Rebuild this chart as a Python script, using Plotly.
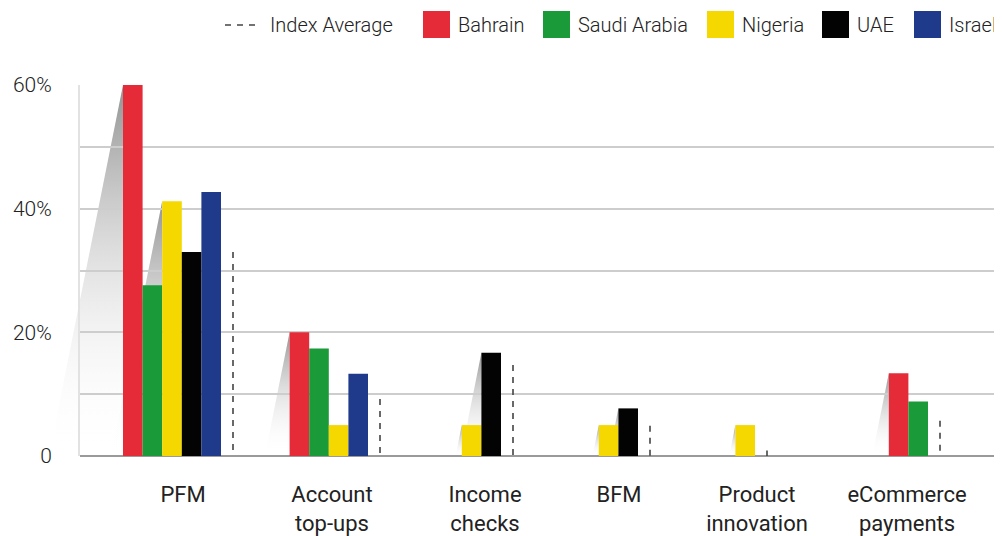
import plotly.graph_objects as go

# data (percent of respondents)
categories = ["PFM", "Account<br>top-ups", "Income<br>checks", "BFM",
              "Product<br>innovation", "eCommerce<br>payments"]
countries = ["Bahrain", "Saudi Arabia", "Nigeria", "UAE", "Israel"]
bahrain = [60, 20, None, None, None, 13.4]
saudi_arabia = [27.6, 17.4, None, None, None, 8.8]
nigeria = [41.2, 5, 5, 5, 5, None]
uae = [33, None, 16.7, 7.7, None, None]
israel = [42.7, 13.3, None, None, None, None]
index_average = [33, 9.2, 14.7, 4.9, 0.9, 5.7]
y_ticks = [0, 20, 40, 60]
y_ticktext = ["0", "20%", "40%", "60%"]

# styling / layout (x positions below are in page pixels)
colors = ["#e52b38", "#1b9a3a", "#f5d800", "#030303", "#203a8b"]
W, H = 1002, 536
OFF = 8                      # the page body margin shifts the figure by this much
MT = 85 - OFF
plot_h = 456 - 85
MB = H - MT - plot_h
page_lo, page_hi = OFF, OFF + W
x_lo = 80                    # where the value axis sits
px_per_unit = plot_h / 60
avg_x = [233, 380, 513, 650, 767, 940]      # where each index-average line sits
label_x = [183, 332, 485, 619, 757, 907]
bar_w = 19.6
gap = 12
shadowed = {(0, "Bahrain"), (0, "Nigeria"), (1, "Bahrain"), (2, "Nigeria"),
            (2, "UAE"), (3, "Nigeria"), (3, "UAE"), (4, "Nigeria"), (5, "Bahrain")}

series = dict(zip(countries, [bahrain, saudi_arabia, nigeria, uae, israel]))

# bar centres: packed right-aligned in front of the average line
positions = {c: [None] * len(categories) for c in countries}
for i in range(len(categories)):
    present = [c for c in countries if series[c][i] is not None]
    n = len(present)
    for j, c in enumerate(present):
        positions[c][i] = avg_x[i] - gap - (n - j - 0.5) * bar_w

fig = go.Figure()

# soft shadows: own full-width subplot underneath so they can spill past the axis
for c in countries:
    for i, v in enumerate(series[c]):
        if v is None or (i, c) not in shadowed:
            continue
        left = positions[c][i] - bar_w / 2
        dx = 0.2 * v * px_per_unit
        fig.add_trace(go.Scatter(
            x=[left, left, left - dx, left], y=[v, 0, 0, v],
            mode="lines", line=dict(width=0), fill="toself",
            fillgradient=dict(type="vertical",
                              colorscale=[[0, "rgba(255,255,255,0)"],
                                          [1, "rgba(140,140,140,0.95)"]]),
            hoverinfo="skip", showlegend=False))

# index average: dashed verticals on the main subplot
ax, ay = [], []
for x, v in zip(avg_x, index_average):
    ax += [x, x, None]
    ay += [v, 0, None]
fig.add_trace(go.Scatter(x=ax, y=ay, mode="lines", name="Index Average",
                         xaxis="x2", yaxis="y2",
                         line=dict(color="#444444", width=1.6, dash="6px,6px"),
                         showlegend=False))

# bars on an overlay of the main subplot so they sit above the shadows
for c, col in zip(countries, colors):
    xs = [x for x in positions[c] if x is not None]
    ys = [v for v in series[c] if v is not None]
    fig.add_trace(go.Bar(x=xs, y=ys, width=bar_w, name=c, xaxis="x3", yaxis="y3",
                         marker=dict(color=col, line=dict(width=0)),
                         showlegend=False))

# hand-drawn legend along the top
def pxx(p):
    return (p - page_lo) / (page_hi - page_lo)

def pxy(p):
    return (456 - p) / plot_h

legend_font = dict(family="Roboto", size=20, color="#222222", weight=300)
shapes = [dict(type="line", xref="paper", yref="paper",
               x0=pxx(225), x1=pxx(261), y0=pxy(25), y1=pxy(25),
               line=dict(color="#444444", width=1.6, dash="6px,6px"))]
annotations = [dict(text="Index Average", xref="paper", yref="paper",
                    x=pxx(268), y=pxy(25), xanchor="left", yanchor="middle",
                    showarrow=False, font=legend_font)]
square_x = [423, 543, 707, 822, 914]
for c, col, sx in zip(countries, colors, square_x):
    shapes.append(dict(type="rect", xref="paper", yref="paper",
                       x0=pxx(sx), x1=pxx(sx + 27), y0=pxy(38), y1=pxy(11),
                       fillcolor=col, line=dict(width=0)))
    annotations.append(dict(text=c, xref="paper", yref="paper",
                            x=pxx(sx + 33), y=pxy(25), xanchor="left",
                            yanchor="middle", showarrow=False, font=legend_font))

main_domain = [pxx(x_lo), 1]
fig.update_layout(
    width=W, height=H,
    margin=dict(l=0, r=0, t=MT, b=MB),
    plot_bgcolor="rgba(0,0,0,0)", paper_bgcolor="white",
    barmode="overlay", showlegend=False,
    shapes=shapes, annotations=annotations,
    xaxis=dict(domain=[0, 1], range=[page_lo, page_hi], visible=False),
    yaxis=dict(range=[0, 60], visible=False),
    xaxis2=dict(domain=main_domain, range=[x_lo, page_hi], anchor="y2",
                tickvals=label_x, ticktext=categories,
                showgrid=False, zeroline=False, showline=False, ticks="",
                ticklabelstandoff=23,
                tickfont=dict(family="Roboto", size=22, color="#222222")),
    yaxis2=dict(range=[0, 60], anchor="x2", tickvals=y_ticks, ticktext=y_ticktext,
                showgrid=False, zeroline=True, zerolinecolor="#9a9a9a",
                zerolinewidth=2, showline=True, linecolor="#e2e2e2", linewidth=2,
                ticks="", ticklabelstandoff=22,
                tickfont=dict(family="Roboto", size=21, color="#222222", weight=300),
                minor=dict(tickvals=[10, 20, 30, 40, 50], showgrid=True,
                           gridcolor="#cdcdcd", gridwidth=1.5)),
    xaxis3=dict(range=[x_lo, page_hi], overlaying="x2", anchor="y3", visible=False),
    yaxis3=dict(range=[0, 60], overlaying="y2", anchor="x3", visible=False),
)

fig.write_html("out.html")
